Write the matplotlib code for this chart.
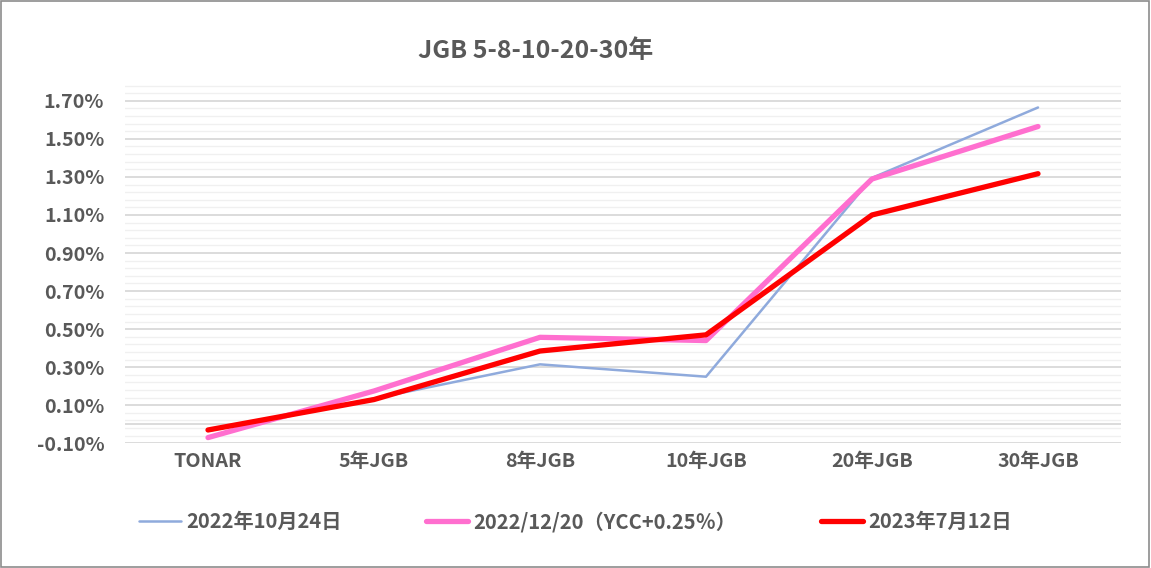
import matplotlib
matplotlib.use("Agg")
import matplotlib.pyplot as plt
from matplotlib.patches import Rectangle
from matplotlib.ticker import FixedLocator, FuncFormatter
import numpy as np

plt.rcParams['font.family'] = ['Noto Sans CJK JP', 'DejaVu Sans']

title = "JGB 5-8-10-20-30年"
categories = ["TONAR", "5年JGB", "8年JGB", "10年JGB", "20年JGB", "30年JGB"]
series_names = ["2022年10月24日", "2022/12/20（YCC+0.25％）", "2023年7月12日"]
s_2022_10_24 = [-0.035, 0.135, 0.315, 0.25, 1.295, 1.665]
s_2022_12_20 = [-0.07, 0.175, 0.457, 0.44, 1.289, 1.565]
s_2023_07_12 = [-0.03, 0.13, 0.385, 0.47, 1.10, 1.317]
y_ticks = [-0.10, 0.10, 0.30, 0.50, 0.70, 0.90, 1.10, 1.30, 1.50, 1.70]

W, H = 1151, 568
fig = plt.figure(figsize=(W / 100, H / 100), dpi=100)
fig.patch.set_facecolor('white')

ax = fig.add_axes([125 / W, 1 - 443.3 / H, (1121 - 125) / W, (443.3 - 81.8) / H])
x = np.arange(len(categories))

minor = np.round(np.arange(-0.10, 1.80, 0.04), 4)
minor = [m for m in minor if not any(abs(m - t) < 1e-6 for t in y_ticks)]
ax.yaxis.set_major_locator(FixedLocator(y_ticks))
ax.yaxis.set_minor_locator(FixedLocator(minor))
ax.grid(True, which='major', axis='y', color='#D9D9D9', linewidth=1.3, zorder=0)
ax.grid(True, which='minor', axis='y', color='#F0F0F0', linewidth=1.0, zorder=0)
ax.axhline(0, color='#D9D9D9', linewidth=1.3, zorder=1)

colors = ['#8FAADC', '#FF6FCF', '#FF0000']
widths = [1.8, 3.8, 3.8]
for vals, name, c, lw in zip([s_2022_10_24, s_2022_12_20, s_2023_07_12], series_names, colors, widths):
    ax.plot(x, vals, color=c, linewidth=lw, label=name, solid_capstyle='round',
            solid_joinstyle='round', zorder=3)

ax.set_xlim(-0.5, len(categories) - 0.5)
ax.set_ylim(-0.10, 1.80)
ax.set_xticks(x)
ax.set_xticklabels(categories)
ax.yaxis.set_major_formatter(FuncFormatter(lambda v, p: f"{v:.2f}%"))
for s in ax.spines.values():
    s.set_visible(False)
ax.tick_params(axis='both', which='both', length=0, colors='#595959', labelsize=14.2)
ax.tick_params(axis='y', pad=15)
ax.tick_params(axis='x', pad=6)
for lbl in ax.get_xticklabels() + ax.get_yticklabels():
    lbl.set_fontweight('bold')

fig.text(535.6 / W, 1 - 50.7 / H, title, ha='center', va='center', fontsize=18,
         fontweight='bold', color='#595959')

leg = fig.legend(loc='center', bbox_to_anchor=(575 / W, 1 - 521.5 / H), ncol=3, frameon=False,
                 fontsize=14.5, handlelength=2.1, columnspacing=4.2, handletextpad=0.25)
for t in leg.get_texts():
    t.set_color('#595959')
    t.set_fontweight('bold')

fig.add_artist(Rectangle((0.5 / W, 1.5 / H), 1148 / W, 565.5 / H, transform=fig.transFigure,
                         fill=False, edgecolor='#8C8C8C', linewidth=1.2))

fig.savefig("out.png", dpi=100, facecolor='white')
